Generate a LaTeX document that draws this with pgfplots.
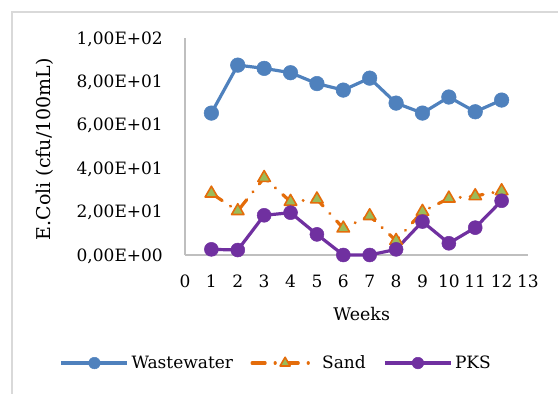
\documentclass[border=0pt]{standalone}
\usepackage{pgfplots}
\pgfplotsset{compat=1.18}
\usepackage{fontspec}
\setmainfont{DejaVu Serif}
\definecolor{wblue}{HTML}{4F81BD}
\definecolor{sorange}{HTML}{E46C0A}
\definecolor{sgreen}{HTML}{9BBB59}
\definecolor{ppurple}{HTML}{7030A0}
\definecolor{framegray}{HTML}{D9D9D9}
\definecolor{axgray}{HTML}{BFBFBF}
\begin{document}
\begin{tikzpicture}
\useasboundingbox (0,0) rectangle (558bp,394bp);
\draw[framegray, line width=1.5bp] (12bp,0) -- (12bp,382bp) -- (558bp,382bp);
\begin{axis}[
  at={(185bp,139bp)}, anchor=south west,
  scale only axis, width=343bp, height=217bp,
  xmin=0, xmax=13, ymin=0, ymax=100,
  clip=false,
  axis lines=left,
  axis line style={-, axgray, line width=1.3bp},
  major tick length=0pt,
  xtick={0,1,...,13},
  ytick={0,20,40,60,80,100},
  yticklabels={{0,00E+00},{2,00E+01},{4,00E+01},{6,00E+01},{8,00E+01},{1,00E+02}},
  xticklabel style={font=\fontsize{17bp}{20bp}\selectfont, anchor=base, inner sep=0pt, yshift=-33bp},
  yticklabel style={font=\fontsize{17bp}{20bp}\selectfont, anchor=base east, inner sep=0pt, xshift=-22bp, yshift=-6.2bp},
  /pgf/number format/assume math mode=true,
  xlabel={Weeks},
  xlabel style={font=\fontsize{17.4bp}{20bp}\selectfont, at={(axis description cs:0.515,-0.30)}, anchor=base, inner sep=0pt},
  ylabel={E.Coli (cfu/100mL)},
  ylabel style={font=\fontsize{19bp}{22bp}\selectfont, at={(axis description cs:-0.408,0.488)}, anchor=center, rotate=0},
  legend columns=3,
  legend style={at={(axis description cs:0.267,-0.498)}, anchor=center, draw=none, fill=none,
    font=\fontsize{17bp}{20bp}\selectfont,
    /tikz/every even column/.append style={column sep=15bp},
    nodes={inner sep=2.5bp}},
  legend image post style={mark size=5.8bp},
  legend image code/.code={\draw[mark repeat=2,mark phase=2,#1] plot coordinates {(0bp,0bp) (33bp,0bp) (66bp,0bp)};},
]
\addplot[wblue, line width=3.2bp, mark=*, mark size=7.3bp, mark options={solid, fill=wblue, draw=wblue, line width=0.5bp}]
  coordinates {(1,65.4)(2,87.5)(3,86)(4,84)(5,79)(6,76)(7,81.5)(8,70)(9,65.4)(10,72.8)(11,66)(12,71.4)};
\addlegendentry{Wastewater}
\addplot[sorange, line width=3.2bp, line cap=round, dash pattern=on 13bp off 10bp on 0.1bp off 10bp, mark=triangle*, mark size=7.2bp, mark options={solid, fill=sgreen, draw=sorange, line width=1.6bp, line join=round}]
  coordinates {(1,28.4)(2,20.3)(3,35.6)(4,24.6)(5,25.7)(6,12.3)(7,18)(8,6.6)(9,20)(10,26.1)(11,27.2)(12,29.5)};
\addlegendentry{Sand}
\addplot[ppurple, line width=3.2bp, mark=*, mark size=7bp, mark options={solid, fill=ppurple, draw=ppurple, line width=0.5bp}]
  coordinates {(1,2.6)(2,2.3)(3,18.3)(4,19.5)(5,9.5)(6,0)(7,0)(8,2.6)(9,15.4)(10,5.4)(11,12.6)(12,25)};
\addlegendentry{PKS}
\end{axis}
\end{tikzpicture}
\end{document}
